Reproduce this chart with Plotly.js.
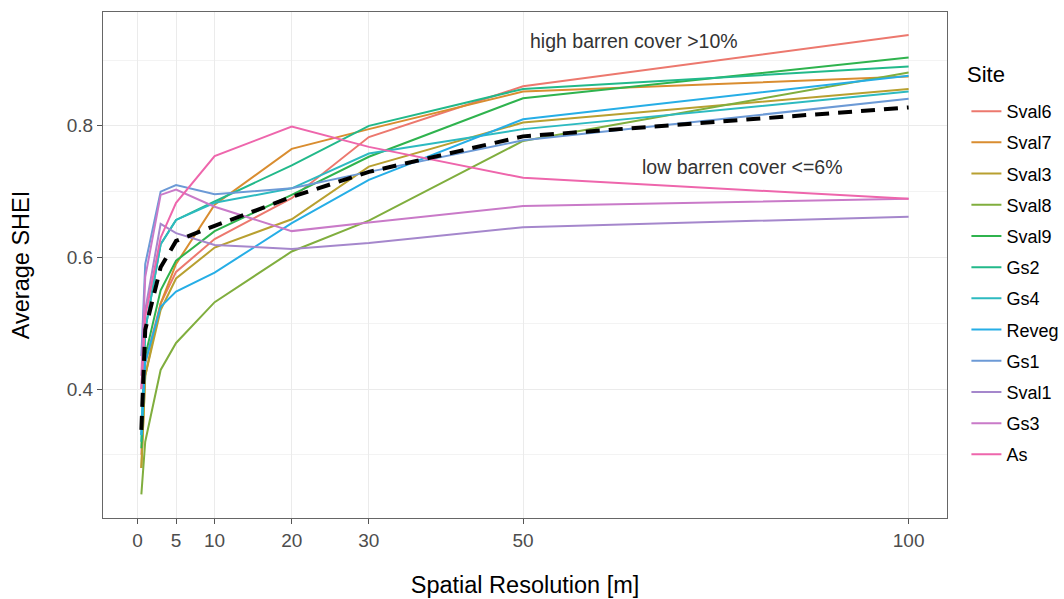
<!DOCTYPE html>
<html>
<head>
<meta charset="utf-8">
<script src="https://cdn.plot.ly/plotly-3.0.1.min.js"></script>
<style>html,body{margin:0;padding:0;background:#fff;}#chart{width:1064px;height:599px;}</style>
</head>
<body>
<div id="chart"></div>
<script>
const resolution = [0.5, 1, 3, 5, 10, 20, 30, 50, 100];

const siteNames = ["Sval6","Sval7","Sval3","Sval8","Sval9","Gs2","Gs4","Reveg","Gs1","Sval1","Gs3","As"];
const siteColors = ["#EC786E","#D98D30","#B8A030","#80AE3E","#2FB34E","#22B98A","#2DBAC0","#26AEE6","#6C9AD6","#A587CC","#C97AC8","#EE66AC"];

const Sval6 = [0.30, 0.44, 0.53, 0.578, 0.628, 0.690, 0.783, 0.860, 0.938];
const Sval7 = [0.28, 0.42, 0.53, 0.590, 0.680, 0.765, 0.795, 0.852, 0.875];
const Sval3 = [0.28, 0.42, 0.52, 0.568, 0.615, 0.658, 0.738, 0.805, 0.856];
const Sval8 = [0.24, 0.32, 0.429, 0.470, 0.532, 0.609, 0.656, 0.777, 0.881];
const Sval9 = [0.31, 0.45, 0.55, 0.595, 0.640, 0.695, 0.753, 0.842, 0.904];
const Gs2   = [0.32, 0.49, 0.62, 0.657, 0.685, 0.740, 0.800, 0.856, 0.890];
const Gs4   = [0.33, 0.49, 0.62, 0.657, 0.683, 0.705, 0.758, 0.795, 0.852];
const Reveg = [0.33, 0.44, 0.525, 0.548, 0.577, 0.652, 0.718, 0.810, 0.876];
const Gs1   = [0.45, 0.59, 0.700, 0.710, 0.696, 0.705, 0.730, 0.778, 0.841];
const Sval1 = [0.40, 0.52, 0.651, 0.637, 0.619, 0.613, 0.622, 0.646, 0.662];
const Gs3   = [0.42, 0.57, 0.695, 0.703, 0.677, 0.640, 0.653, 0.678, 0.689];
const As    = [0.40, 0.51, 0.630, 0.683, 0.754, 0.799, 0.768, 0.721, 0.689];
const meanSHEI = [0.338, 0.49, 0.585, 0.625, 0.648, 0.692, 0.730, 0.784, 0.828];

const siteValues = [Sval6, Sval7, Sval3, Sval8, Sval9, Gs2, Gs4, Reveg, Gs1, Sval1, Gs3, As];

const xTicks = [0, 5, 10, 20, 30, 50, 100];
const yTicks = [0.4, 0.6, 0.8];
const yMinor = [0.3, 0.5, 0.7, 0.9];

const traces = siteNames.map((name, i) => ({
  x: resolution, y: siteValues[i], type: 'scatter', mode: 'lines', name: name,
  legendgroup: name,
  line: {color: siteColors[i], width: 2}
}));
traces.push({
  x: resolution, y: meanSHEI, type: 'scatter', mode: 'lines', name: 'mean', showlegend: false,
  line: {color: '#000000', width: 4, dash: '14px,9px'}
});

const layout = {
  width: 1064, height: 599,
  margin: {l: 103, r: 117, t: 12, b: 81, autoexpand: false},
  paper_bgcolor: '#ffffff', plot_bgcolor: '#ffffff',
  font: {family: 'Liberation Sans, Arial, sans-serif', color: '#000'},
  showlegend: true,
  legend: {
    x: 1.023, xanchor: 'left', y: 0.840, yanchor: 'top',
    font: {size: 18, color: '#000'},
    tracegroupgap: 4.8,
    bgcolor: 'rgba(0,0,0,0)'
  },
  xaxis: {
    range: [-4.475, 104.975], tickvals: xTicks, ticktext: xTicks.map(String),
    ticks: 'outside', ticklen: 5, tickcolor: '#555', tickwidth: 1,
    tickfont: {size: 19, color: '#4d4d4d'},
    showgrid: true, gridcolor: '#ebebeb', gridwidth: 1, zeroline: false,
    showline: true, mirror: true, linecolor: '#666', linewidth: 1,
    title: {text: 'Spatial Resolution [m]', font: {size: 23.5, color: '#000'}, standoff: 26},
    automargin: false
  },
  yaxis: {
    range: [0.204, 0.973], tickvals: yTicks, ticktext: ['0.4','0.6','0.8'],
    ticks: 'outside', ticklen: 5, tickcolor: '#555', tickwidth: 1,
    tickfont: {size: 19, color: '#4d4d4d'},
    showgrid: true, gridcolor: '#ebebeb', gridwidth: 1, zeroline: false,
    minor: {tickvals: yMinor, showgrid: true, gridcolor: '#f3f3f3', gridwidth: 1, ticks: ''},
    showline: true, mirror: true, linecolor: '#666', linewidth: 1,
    title: {text: 'Average SHEI', font: {size: 23.5, color: '#000'}, standoff: 30},
    automargin: false
  },
  annotations: [
    {x: 1.0213, y: 0.8755, xref: 'paper', yref: 'paper', xanchor: 'left', yanchor: 'middle',
     text: 'Site', showarrow: false, font: {size: 22, color: '#000'}},
    {x: 64.4, y: 0.929, xref: 'x', yref: 'y', text: 'high barren cover >10%', showarrow: false,
     font: {size: 19.5, color: '#333'}},
    {x: 78.4, y: 0.738, xref: 'x', yref: 'y', text: 'low barren cover <=6%', showarrow: false,
     font: {size: 19.5, color: '#333'}}
  ]
};

Plotly.newPlot('chart', traces, layout, {displayModeBar: false, staticPlot: true});
</script>
</body>
</html>
